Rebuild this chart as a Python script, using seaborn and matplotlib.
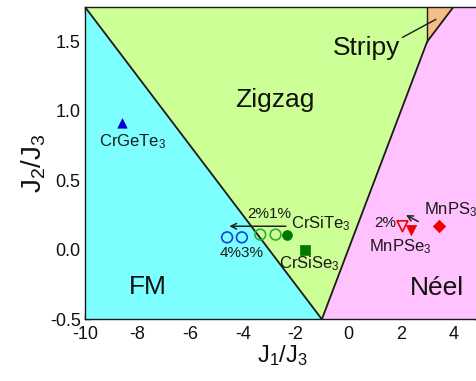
import matplotlib
matplotlib.use("Agg")
import matplotlib.pyplot as plt
import seaborn as sns
import pandas as pd

sns.set_style("ticks")
plt.rcParams['font.family'] = ['Liberation Sans', 'DejaVu Sans']
plt.rcParams['mathtext.fontset'] = 'custom'
plt.rcParams['mathtext.rm'] = 'Liberation Sans'
plt.rcParams['mathtext.it'] = 'Liberation Sans'
plt.rcParams['axes.unicode_minus'] = False

# phase regions (polygon vertices in J1/J3, J2/J3)
fm_x = [-10, -10, -1]
fm_y = [-0.5, 1.75, -0.5]
zz_x = [-10, 3, 3, -1]
zz_y = [1.75, 1.75, 1.5, -0.5]
st_x = [3, 3, 4]
st_y = [1.5, 1.75, 1.75]
ne_x = [-1, 3, 4, 5, 5]
ne_y = [-0.5, 1.5, 1.75, 1.75, -0.5]
b1_x = [-10, -1, 3, 4]
b1_y = [1.75, -0.5, 1.5, 1.75]
b2_x = [3, 3]
b2_y = [1.5, 1.75]

# materials
names = ["CrGeTe3", "CrSiTe3", "CrSiSe3", "MnPS3", "MnPSe3"]
mat_x = [-8.6, -2.32, -1.65, 3.43, 2.40]
mat_y = [0.91, 0.11, 0.0, 0.17, 0.14]

# strained CrSiTe3 (1%,2%,3%,4%)
str_x = [-2.76, -3.34, -4.04, -4.60]
str_y = [0.11, 0.11, 0.09, 0.09]
# strained MnPSe3 (2%)
mnse_x = [2.06]
mnse_y = [0.17]

fig = plt.figure(figsize=(4.77, 3.81), dpi=100)
ax = fig.add_axes([0.178, 0.162, 0.828, 0.820])

ax.fill(fm_x, fm_y, color="#7DFFFF", lw=0)
ax.fill(zz_x, zz_y, color="#CCFF95", lw=0)
ax.fill(st_x, st_y, color="#F5BE85", lw=0)
ax.fill(ne_x, ne_y, color="#FFC2FF", lw=0)
ax.plot(b1_x, b1_y, color="#1a1a1a", lw=1.3)
ax.plot(b2_x, b2_y, color="#1a1a1a", lw=1.0)

df = pd.DataFrame({"x": mat_x, "y": mat_y, "name": names})
markers = {"CrGeTe3": "^", "CrSiTe3": "o", "CrSiSe3": "s", "MnPS3": "D", "MnPSe3": "v"}
colors = {"CrGeTe3": "#0000CC", "CrSiTe3": "#007700", "CrSiSe3": "#007700",
          "MnPS3": "#EE0000", "MnPSe3": "#EE0000"}
sizes = {"CrGeTe3": 45, "CrSiTe3": 50, "CrSiSe3": 42, "MnPS3": 40, "MnPSe3": 55}
for n in names:
    sub = df[df.name == n]
    sns.scatterplot(data=sub, x="x", y="y", marker=markers[n], color=colors[n],
                    s=sizes[n], edgecolor=colors[n], linewidth=0.5, ax=ax, zorder=5)

sdf = pd.DataFrame({"x": str_x, "y": str_y, "c": ["g", "g", "b", "b"]})
sns.scatterplot(data=sdf[sdf.c == "g"], x="x", y="y", marker="o", s=60,
                facecolor="none", edgecolor="#33AA33", linewidth=1.2, ax=ax, zorder=5)
sns.scatterplot(data=sdf[sdf.c == "b"], x="x", y="y", marker="o", s=60,
                facecolor="none", edgecolor="#1144DD", linewidth=1.2, ax=ax, zorder=5)
sns.scatterplot(x=mnse_x, y=mnse_y, marker="v", s=60, facecolor="none",
                edgecolor="#EE0000", linewidth=1.2, ax=ax, zorder=5)

# arrows
ax.annotate("", xy=(-4.62, 0.17), xytext=(-2.26, 0.17),
            arrowprops=dict(arrowstyle="->", color="#222222", lw=1.1))
ax.annotate("", xy=(2.10, 0.26), xytext=(2.75, 0.195),
            arrowprops=dict(arrowstyle="->", color="#222222", lw=1.1))
ax.plot([2.06, 3.33], [1.53, 1.66], color="#1a1a1a", lw=1.0)

lab = dict(fontsize=12, color="#1a1a1a")
ax.text(-8.2, 0.78, "CrGeTe$_3$", ha="center", va="center", **lab)
ax.text(-2.17, 0.19, "CrSiTe$_3$", ha="left", va="center", **lab)
ax.text(-2.64, -0.10, "CrSiSe$_3$", ha="left", va="center", **lab)
ax.text(2.88, 0.29, "MnPS$_3$", ha="left", va="center", **lab)
ax.text(0.79, 0.02, "MnPSe$_3$", ha="left", va="center", **lab)
pct = dict(fontsize=11, color="#1a1a1a", ha="center", va="center")
ax.text(-2.99, 0.255, "2%1%", **pct)
ax.text(-4.06, -0.02, "4%3%", **pct)
ax.text(1.42, 0.19, "2%", **pct)

reg = dict(color="#111111", ha="center", va="center")
ax.text(-2.80, 1.08, "Zigzag", fontsize=19, **reg)
ax.text(0.70, 1.457, "Stripy", fontsize=19, **reg)
ax.text(-7.6, -0.27, "FM", fontsize=19, **reg)
ax.text(3.36, -0.276, "Néel", fontsize=19, **reg)

ax.set_xlim(-10, 5)
ax.set_ylim(-0.5, 1.75)
ax.set_xticks([-10, -8, -6, -4, -2, 0, 2, 4])
ax.set_xticks([-9, -7, -5, -3, -1, 1, 3], minor=True)
ax.set_yticks([-0.5, 0.0, 0.5, 1.0, 1.5])
ax.set_yticks([-0.25, 0.25, 0.75, 1.25], minor=True)
ax.tick_params(which="both", direction="in", top=True, right=True, labelsize=13,
               labelcolor="#111111")
ax.tick_params(axis="x", pad=5)
ax.tick_params(axis="y", pad=3)
ax.tick_params(which="major", length=4, width=1)
ax.tick_params(which="minor", length=2.5, width=0.8)
ax.set_xlabel("J$_1$/J$_3$", fontsize=17, labelpad=0, color="#111111")
ax.set_ylabel("J$_2$/J$_3$", fontsize=20, labelpad=1, color="#111111")
for s in ax.spines.values():
    s.set_linewidth(1.0)
    s.set_color("#1a1a1a")

fig.savefig("out.png", dpi=100)
